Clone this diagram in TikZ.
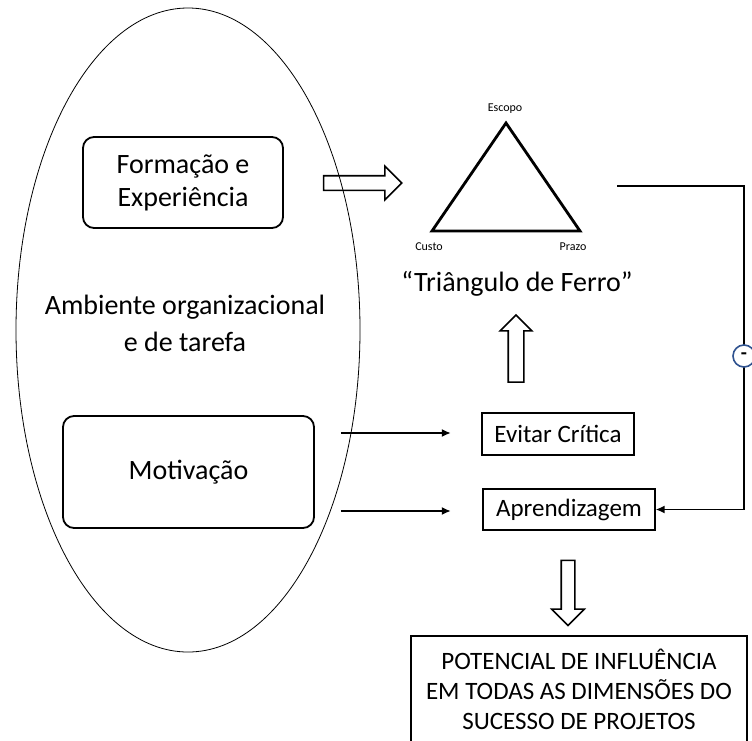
\documentclass[tikz,border=0pt]{standalone}
\usepackage{fontspec}
\setmainfont{Carlito}
\usetikzlibrary{shapes.geometric,shapes.arrows,arrows.meta}
\definecolor{negblue}{RGB}{47,82,143}

\begin{document}
\begin{tikzpicture}[x=1pt,y=-1pt,
    rbox/.style={draw,line width=1.8pt,rounded corners=11pt,align=center,font=\fontsize{28}{33}\selectfont},
    sbox/.style={draw,line width=1.1pt,align=center,font=\fontsize{25}{30}\selectfont},
    hollow/.style={draw,line width=1.6pt,single arrow,inner sep=6.5pt,single arrow head extend=9.5pt},
    conn/.style={line width=1.8pt,-{Latex[length=9pt,width=8pt]}}]
    \useasboundingbox (0,0) rectangle (752,740);
    %% Environment
    \node[draw,ellipse,line width=0.8pt,minimum width=344pt,minimum height=644pt] (amb) at (188,330) {};
    \node[align=center,font=\fontsize{28}{37}\selectfont] (ambtxt) at (185,323) {Ambiente organizacional\\e de tarefa};
    \node[rbox,minimum width=200pt,minimum height=91pt] (form) at (183,182.5) {Formação e\\Experiência};
    \node[rbox,minimum width=251pt,minimum height=112pt] (motiv) at (188.5,472) {Motivação};
    %% Iron triangle
    \coordinate (esc) at (506,123);
    \coordinate (cus) at (432,231);
    \coordinate (pra) at (580,231);
    \draw[line width=2.8pt,line join=miter] (esc) -- (cus) -- (pra) -- cycle;
    \node[font=\fontsize{12}{14}\selectfont] (esclbl) at (505,109) {Escopo};
    \node[font=\fontsize{12}{14}\selectfont] (cuslbl) at (429,247) {Custo};
    \node[font=\fontsize{12}{14}\selectfont] (pralbl) at (573,247) {Prazo};
    \node[font=\fontsize{28}{33}\selectfont] (ferro) at (517,284) {“Triângulo de Ferro”};
    %% Outcomes
    \node[sbox,minimum width=152pt,minimum height=42pt] (evit) at (558,434) {Evitar Crítica};
    \node[sbox,minimum width=172pt,minimum height=41pt] (apren) at (569,509.5) {Aprendizagem};
    \node[sbox,minimum width=336pt,minimum height=106pt] (pot) at (579,689) {POTENCIAL DE INFLUÊNCIA\\EM TODAS AS DIMENSÕES DO\\SUCESSO DE PROJETOS};
    %% Block arrows
    \node[hollow,minimum height=78pt] (toferro) at (359,183) {};
    \node[hollow,minimum height=67pt,inner sep=7pt,single arrow head extend=8pt,shape border rotate=90] (toup) at (516,352.5) {};
    \node[hollow,minimum height=65pt,inner sep=6pt,single arrow head extend=9.5pt,shape border rotate=270] (todown) at (568,589.5) {};
    %% Arrows
    \draw[conn] (motiv.east) ++(26,-39) -- ++(110,0);
    \draw[conn] (motiv.east) ++(26,39) -- ++(110,0);
    %% Feedback
    \coordinate (fb) at (617,186);
    \draw[conn] (fb) -- (744,186) -- (744,509.5) -- (apren.east);
    \node[draw=negblue,line width=1.6pt,fill=white,circle,minimum size=22pt,inner sep=0pt,font=\fontsize{20}{22}\selectfont\bfseries] (neg) at (744,356) {-};
\end{tikzpicture}
\end{document}
